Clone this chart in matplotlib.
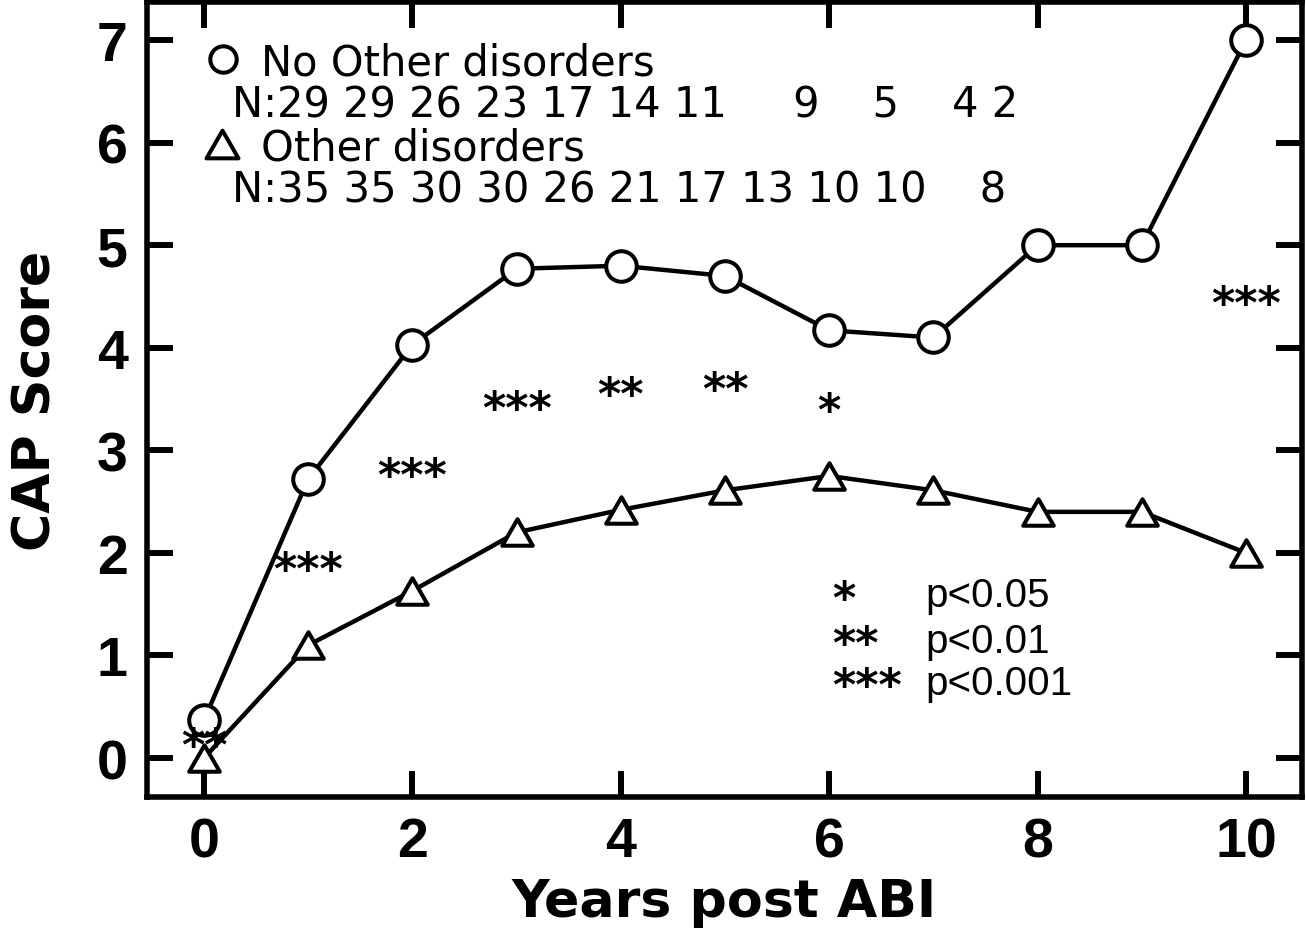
import matplotlib
matplotlib.use("Agg")
import matplotlib.pyplot as plt
from matplotlib.markers import MarkerStyle
from matplotlib.path import Path
from matplotlib.transforms import offset_copy

# ---- data -------------------------------------------------------------
years = list(range(11))
cap_no_other = [0.37, 2.72, 4.03, 4.77, 4.80, 4.70, 4.17, 4.10, 5.00, 5.00, 7.00]
cap_other = [0.00, 1.10, 1.63, 2.20, 2.42, 2.61, 2.75, 2.61, 2.40, 2.40, 2.00]

n_no_other = [29, 29, 26, 23, 17, 14, 11, 9, 5, 4, 2]
n_other = [35, 35, 30, 30, 26, 21, 17, 13, 10, 10, 8]

sig_years = [0, 1, 2, 3, 4, 5, 6, 10]
sig_marks = ["**", "***", "***", "***", "**", "**", "*", "***"]
sig_y = [0.19, 1.90, 2.82, 3.47, 3.61, 3.66, 3.45, 4.49]

p_marks = ["*", "**", "***"]
p_texts = ["p<0.05", "p<0.01", "p<0.001"]

x_ticks = [0, 2, 4, 6, 8, 10]
y_ticks = [0, 1, 2, 3, 4, 5, 6, 7]

# spacing between the sample-size numbers in each N row
gaps_no_other = [1, 1, 1, 1, 1, 1, 5, 4, 4, 1]
gaps_other = [1, 1, 1, 1, 1, 1, 1, 1, 1, 4]


def n_row(counts, gaps):
    s = "N:" + str(counts[0])
    for c, g in zip(counts[1:], gaps):
        s += " " * g + str(c)
    return s


# ---- figure -----------------------------------------------------------
W, H = 1306, 937
fig = plt.figure(figsize=(W / 100, H / 100), dpi=100)
ax = fig.add_axes([147 / W, 139 / H, 1155 / W, 795 / H])

tri = MarkerStyle(Path([(0, 0.5), (-0.577, -0.5), (0.577, -0.5), (0, 0.5)],
                       closed=True), joinstyle="miter")

ax.plot(years, cap_no_other, color="black", lw=3.2, marker="o", ms=22,
        mfc="white", mec="black", mew=2.9, zorder=3)
ax.plot(years, cap_other, color="black", lw=3.2, marker=tri, ms=22,
        mfc="white", mec="black", mew=2.9, zorder=3)

ax.set_xlim(-0.547, 10.537)
ax.set_ylim(-0.38, 7.371)

tick_font = dict(family="Liberation Sans", weight="bold", size=40)
ax.set_xticks(x_ticks, labels=[str(t) for t in x_ticks], **tick_font)
ax.set_yticks(y_ticks, labels=[str(t) for t in y_ticks], **tick_font)
ax.tick_params(axis="both", which="major", direction="in", length=18.5,
               width=4.3, top=True, right=True, pad=14, color="black")
ax.minorticks_off()
for sp in ax.spines.values():
    sp.set_linewidth(4.0)
    sp.set_color("black")

label_font = dict(family="DejaVu Sans", weight="bold", size=37.5)
ax.set_xlabel("Years post ABI", **label_font)
ax.set_ylabel("CAP Score", **label_font)
ax.xaxis.set_label_coords(0.5, -0.1006)
ax.xaxis.label.set_va("top")
ax.yaxis.set_label_coords(-0.0736, 0.5)

# significance stars above each year
star_size = 32
star_drop = 0.45 * star_size
star_tf = offset_copy(ax.transData, fig=fig, y=-star_drop, units="points")
for x, y, m in zip(sig_years, sig_y, sig_marks):
    ax.text(x, y, m, transform=star_tf, ha="center", va="baseline",
            family="DejaVu Sans", weight="bold", fontsize=star_size, zorder=4)

# group key with sample sizes
key_size = 30
key_font = dict(family="DejaVu Sans", fontsize=key_size)
ax.plot([0.0658], [0.9283], transform=ax.transAxes, clip_on=False,
        marker="o", ms=19, mfc="white", mec="black", mew=2.9, ls="none")
ax.plot([0.0649], [0.8214], transform=ax.transAxes, clip_on=False,
        marker=tri, ms=23, mfc="white", mec="black", mew=2.9, ls="none")
key_tf = offset_copy(ax.transAxes, fig=fig, y=-0.365 * key_size, units="points")
ax.text(0.099, 0.9283, "No Other disorders", transform=key_tf,
        ha="left", va="baseline", **key_font)
ax.text(0.0736, 0.8755, n_row(n_no_other, gaps_no_other), transform=key_tf,
        ha="left", va="baseline", **key_font)
ax.text(0.099, 0.8214, "Other disorders", transform=key_tf,
        ha="left", va="baseline", **key_font)
ax.text(0.0736, 0.7686, n_row(n_other, gaps_other), transform=key_tf,
        ha="left", va="baseline", **key_font)

# p-value key
p_rows = [0.258, 0.201, 0.148]
p_star_tf = offset_copy(ax.transAxes, fig=fig, y=-star_drop, units="points")
p_txt_tf = offset_copy(ax.transAxes, fig=fig, y=-0.36 * 29, units="points")
for yy, m, t in zip(p_rows, p_marks, p_texts):
    ax.text(0.593, yy, m, transform=p_star_tf, ha="left", va="baseline",
            family="DejaVu Sans", weight="bold", fontsize=star_size)
    ax.text(0.6736, yy, t, transform=p_txt_tf, ha="left", va="baseline",
            family="Liberation Sans", fontsize=29)

fig.savefig("out.png", dpi=100)
